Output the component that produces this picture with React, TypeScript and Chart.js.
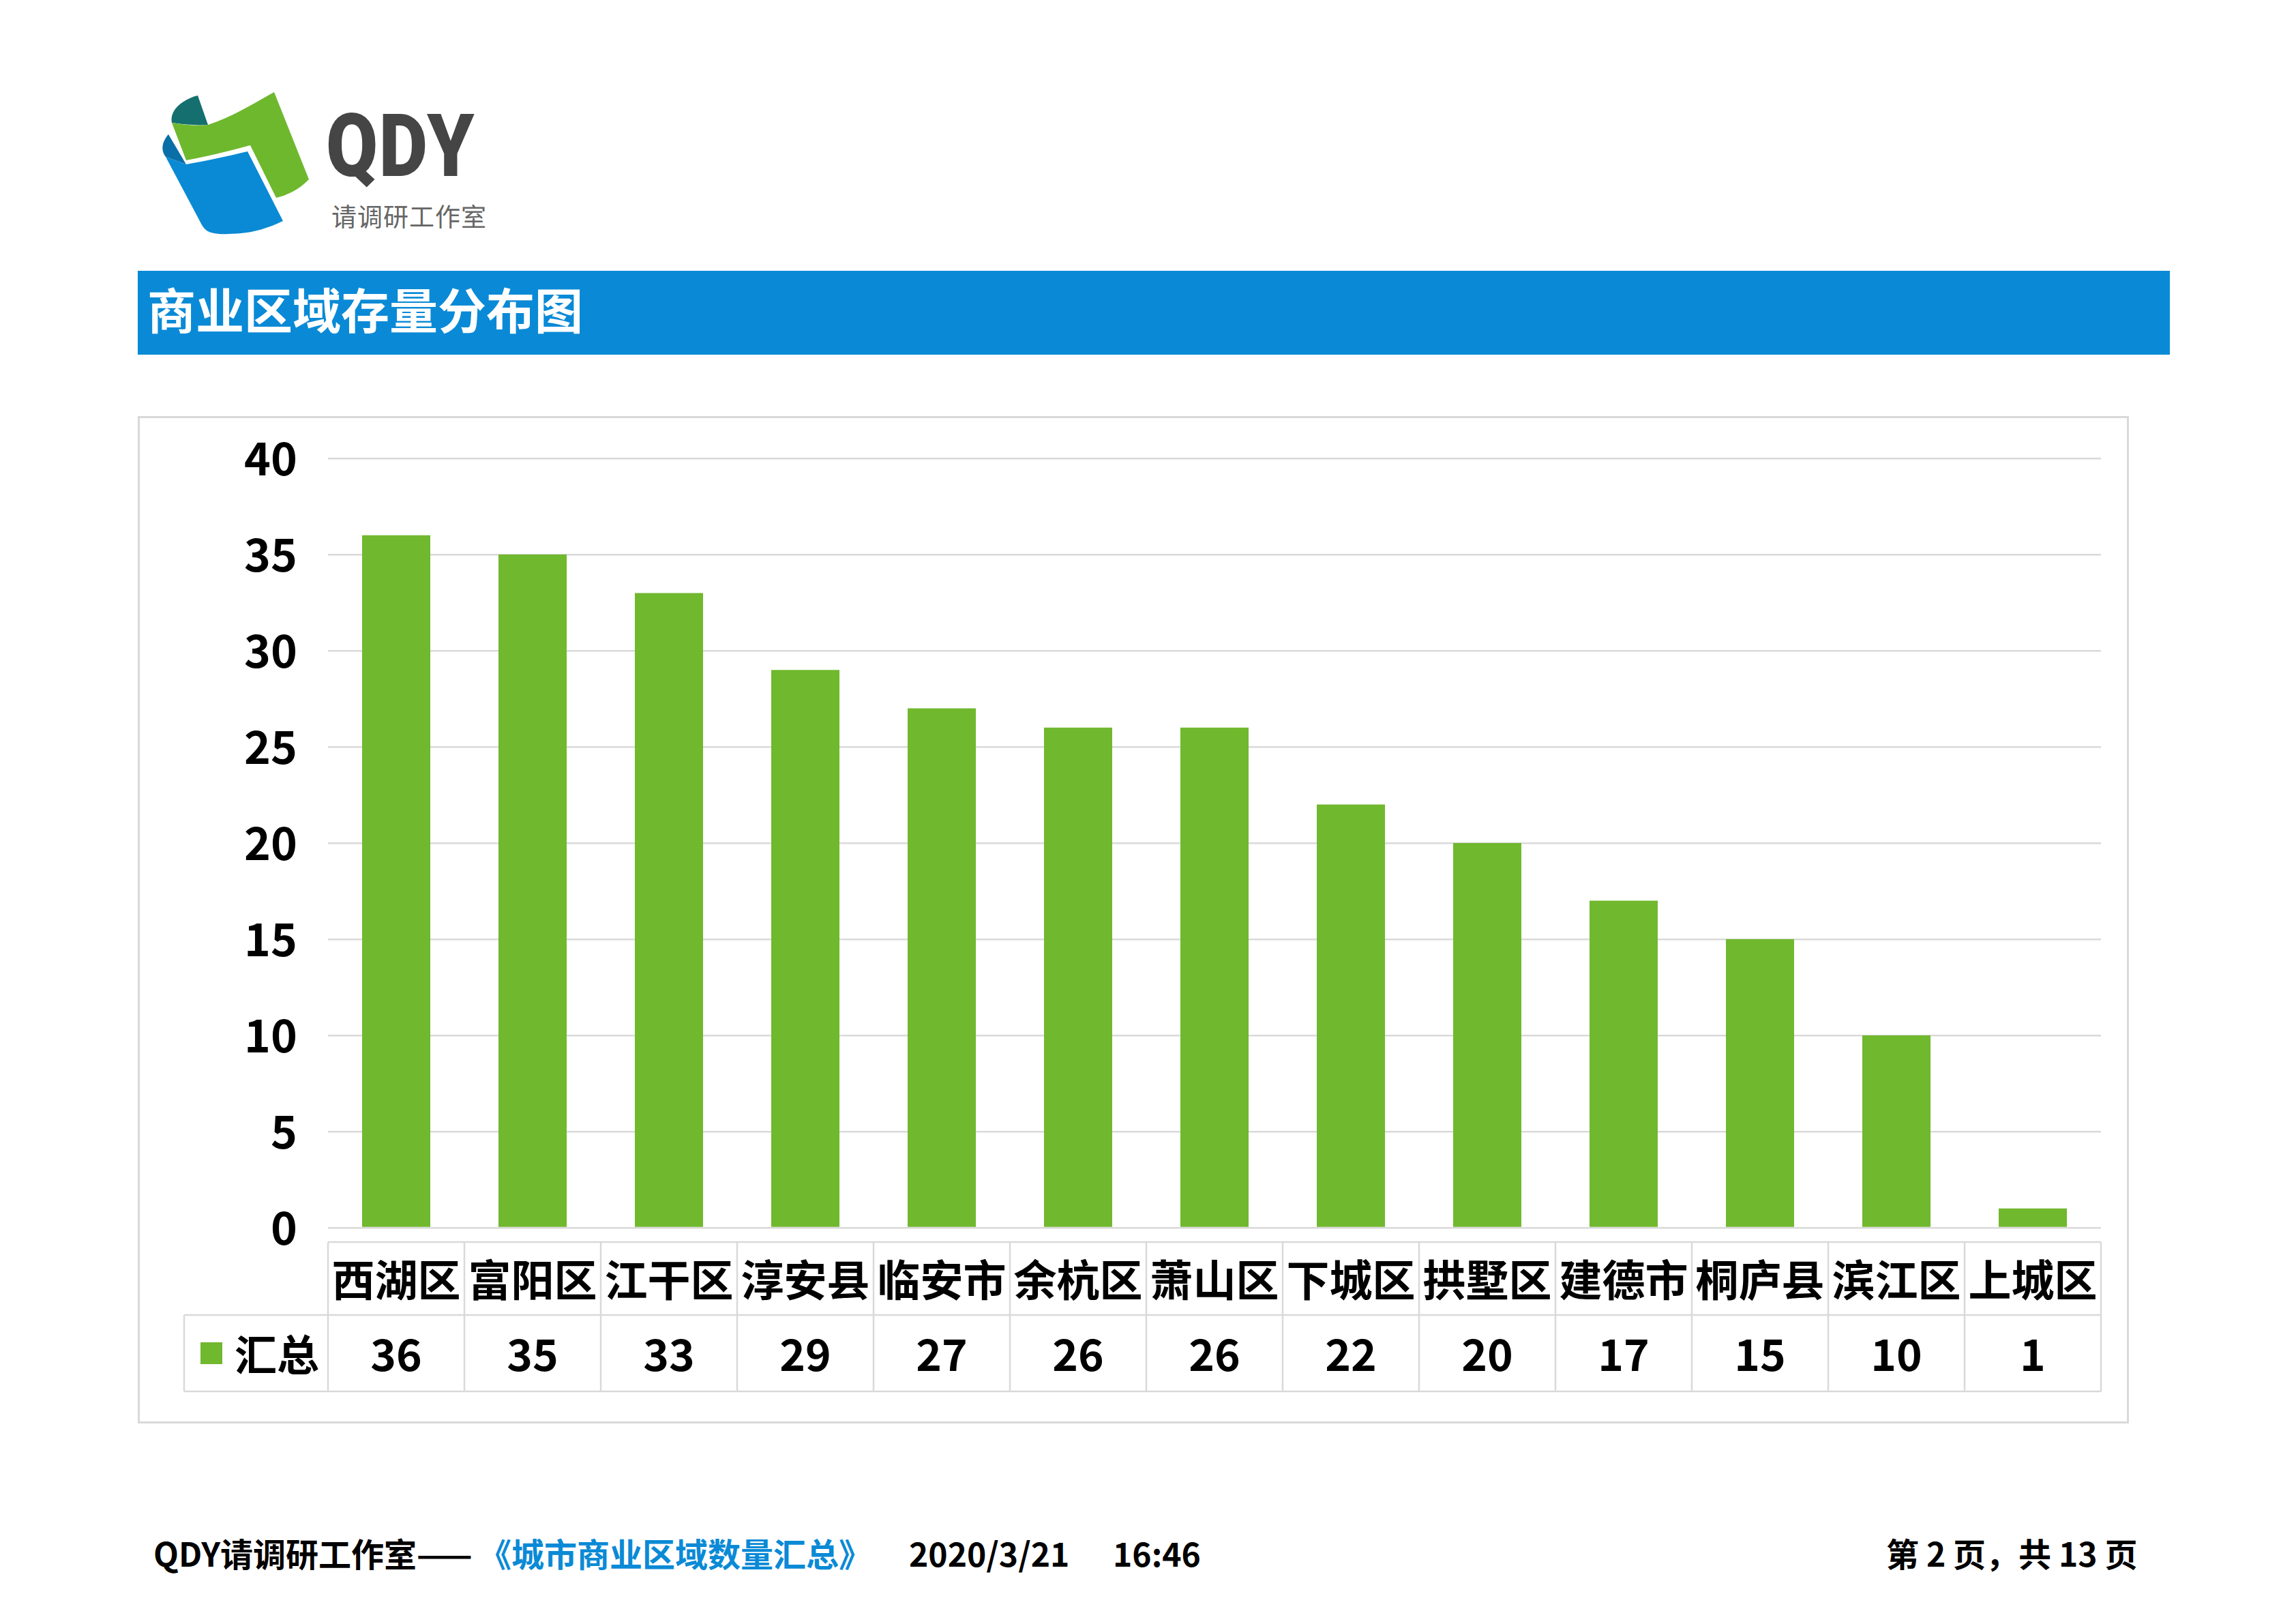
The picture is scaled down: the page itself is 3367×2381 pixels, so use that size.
import React, { useEffect, useRef } from "react";
import { Chart, registerables } from "chart.js";

Chart.register(...registerables);

// ---- data ----
const categories = ["西湖区", "富阳区", "江干区", "淳安县", "临安市", "余杭区", "萧山区", "下城区", "拱墅区", "建德市", "桐庐县", "滨江区", "上城区"];
const seriesLabel = "汇总";
const values = [36, 35, 33, 29, 27, 26, 26, 22, 20, 17, 15, 10, 1];
const yMin = 0;
const yMax = 40;
const yStep = 5;

const FONT = '"Noto Sans CJK SC", "Noto Sans", sans-serif';
const GREEN = "#70B82E";
const GRID = "#D9D9D9";
const BLUE = "#0A8AD6";

const CANVAS_W = 2920;
const CANVAS_H = 1477;

const tablePlugin = {
  id: "dataTable",
  afterDraw(chart: any) {
    const { ctx, chartArea: ca } = chart;
    const x = chart.scales.x;
    const labels: string[] = chart.data.labels;
    const data: number[] = chart.data.datasets[0].data;
    const n = labels.length;
    const step = x.getPixelForValue(1) - x.getPixelForValue(0);
    const top = ca.bottom + 21;
    const mid = top + 107;
    const bot = mid + 112;
    const legendLeft = 68;

    ctx.save();
    ctx.strokeStyle = GRID;
    ctx.lineWidth = 2.5;
    const line = (x1: number, y1: number, x2: number, y2: number) => {
      ctx.beginPath();
      ctx.moveTo(x1, y1);
      ctx.lineTo(x2, y2);
      ctx.stroke();
    };
    line(ca.left, top, ca.right, top);
    line(legendLeft, mid, ca.right, mid);
    line(legendLeft, bot, ca.right, bot);
    line(legendLeft, mid, legendLeft, bot);
    for (let i = 0; i <= n; i++) {
      const bx = i < n ? x.getPixelForValue(i) - step / 2 : x.getPixelForValue(n - 1) + step / 2;
      line(bx, top, bx, bot);
    }

    ctx.fillStyle = "#000";
    ctx.textAlign = "center";
    ctx.textBaseline = "middle";
    ctx.font = `bold 63px ${FONT}`;
    for (let i = 0; i < n; i++) {
      ctx.fillText(labels[i], x.getPixelForValue(i), top + 107 / 2 + 2);
    }
    ctx.font = `bold 64px ${FONT}`;
    for (let i = 0; i < n; i++) {
      ctx.fillText(String(data[i]), x.getPixelForValue(i), mid + 112 / 2 + 2);
    }
    // legend cell
    ctx.fillStyle = chart.data.datasets[0].backgroundColor;
    ctx.fillRect(legendLeft + 24, mid + 112 / 2 - 16, 32, 32);
    ctx.fillStyle = "#000";
    ctx.textAlign = "left";
    ctx.font = `bold 62px ${FONT}`;
    ctx.fillText(chart.data.datasets[0].label, legendLeft + 74, mid + 112 / 2 + 2);
    ctx.restore();
  },
};

function BarChart() {
  const ref = useRef<HTMLCanvasElement>(null);
  useEffect(() => {
    if (!ref.current) return;
    const chart = new Chart(ref.current, {
      type: "bar",
      data: {
        labels: categories,
        datasets: [
          {
            label: seriesLabel,
            data: values,
            backgroundColor: GREEN,
            barPercentage: 0.5,
            categoryPercentage: 1.0,
          },
        ],
      },
      options: {
        animation: false,
        responsive: false,
        devicePixelRatio: 1,
        layout: { padding: { left: 0, right: 41, top: 62, bottom: 287 } },
        plugins: { legend: { display: false }, tooltip: { enabled: false } },
        scales: {
          x: { display: false },
          y: {
            min: yMin,
            max: yMax,
            ticks: {
              stepSize: yStep,
              color: "#000",
              padding: 0,
              font: { family: FONT, size: 66, weight: "bold" },
            },
            grid: { color: GRID, lineWidth: 2.5, drawTicks: true, tickLength: 45, tickColor: "rgba(0,0,0,0)" },
            border: { display: false },
            afterFit: (s: any) => {
              s.width = 279;
            },
          },
        },
      },
      plugins: [tablePlugin],
    } as any);
    return () => chart.destroy();
  }, []);
  return <canvas ref={ref} width={CANVAS_W} height={CANVAS_H} style={{ position: "absolute", left: 0, top: 0 }} />;
}

function Logo() {
  return (
    <svg
      style={{ position: "absolute", left: 220, top: 120 }}
      width={260}
      height={250}
      viewBox="220 120 260 250"
    >
      <path d="M 252 180 C 248 160, 270 145, 290 140 L 305 183 C 290 184, 270 183, 252 180 Z" fill="#146F6E" />
      <path d="M 252 180 C 270 183, 287 185, 305 183 C 337 173, 370 153, 402 135 L 453 263 C 440 277, 420 287, 405 290 L 367 213 C 335 222, 300 230, 273 235 Z" fill="#6EB82E" />
      <path d="M 247 197 C 238 207, 235 220, 243 230 L 273 241 Z" fill="#0A6FA6" />
      <path d="M 243 230 L 273 241 C 300 236, 335 229, 363 222 L 415 324 C 395 334, 370 341, 353 342 C 330 344, 312 344, 303 338 C 298 334, 296 330, 294 326 L 243 230 Z" fill="#0A8AD4" />
    </svg>
  );
}

export default function App() {
  const base: React.CSSProperties = { position: "absolute", fontFamily: FONT, whiteSpace: "nowrap" };
  const footer: React.CSSProperties = { ...base, top: 2276, transform: "translateY(-50%)", fontSize: 48, fontWeight: 700, lineHeight: 1, color: "#000" };
  return (
    <div style={{ position: "absolute", left: 0, top: 0, width: 3367, height: 2381, overflow: "hidden", background: "#fff" }}>
      <Logo />
      <div style={{ ...base, left: 478, top: 150, fontFamily: "Roboto, sans-serif", fontWeight: 900, fontSize: 128, lineHeight: 1, color: "#454545", letterSpacing: 2, transform: "scaleX(0.86)", transformOrigin: "left top" }}>QDY</div>
      <div style={{ ...base, left: 486, top: 298, fontSize: 37, lineHeight: 1, color: "#666", letterSpacing: 1 }}>请调研工作室</div>

      <div style={{ position: "absolute", left: 202, top: 397, width: 2980, height: 123, background: BLUE }} />
      <div style={{ ...base, left: 216, top: 390, height: 123, lineHeight: "123px", fontSize: 71, fontWeight: 700, color: "#fff" }}>商业区域存量分布图</div>

      <div style={{ position: "absolute", left: 202, top: 610, width: CANVAS_W, height: CANVAS_H }}>
        <BarChart />
        <div style={{ position: "absolute", left: 0, top: 0, width: CANVAS_W, height: CANVAS_H, border: `3px solid ${GRID}`, boxSizing: "border-box", pointerEvents: "none" }} />
      </div>

      <div style={{ ...footer, left: 225 }}>QDY请调研工作室<span style={{ letterSpacing: 4 }}>——</span></div>
      <div style={{ ...footer, left: 702, color: BLUE }}>《城市商业区域数量汇总》</div>
      <div style={{ ...footer, left: 1333 }}>2020/3/21</div>
      <div style={{ ...footer, left: 1632 }}>16:46</div>
      <div style={{ ...footer, left: 2766 }}>第 2 页，共 13 页</div>
    </div>
  );
}
